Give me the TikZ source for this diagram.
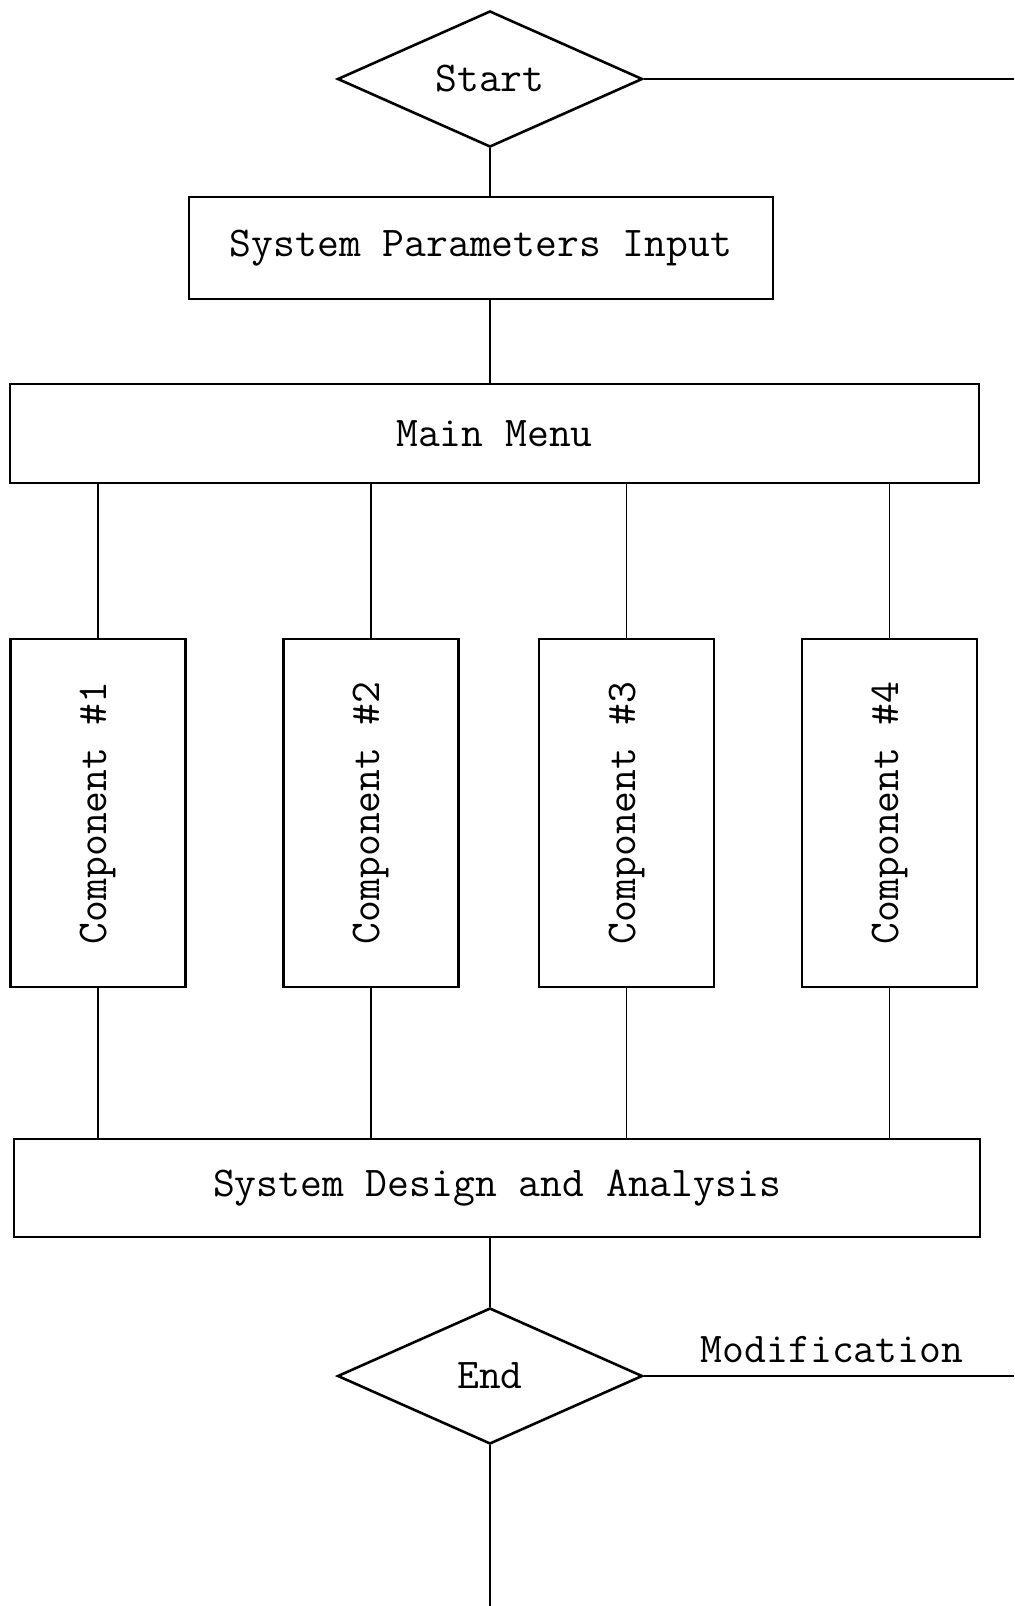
\documentclass[tikz,border=0pt]{standalone}
\usepackage{fontspec}
\usetikzlibrary{positioning, shapes.geometric}

\begin{document}
\begin{tikzpicture}[
      x=0.5pt, y=-0.5pt,
      every node/.style = {font=\ttfamily\fontsize{21.2}{25}\selectfont},
      box/.style       = {draw, line width=1.3pt, inner sep=0pt},
      decision/.style  = {draw, diamond, line width=1.3pt, inner sep=0pt,
                          minimum width=152.5pt, minimum height=68pt},
      comp/.style      = {box, minimum width=87.5pt, minimum height=174pt},
      link/.style      = {line width=0.7pt}
  ]
  \useasboundingbox (0,0) rectangle (1014,1606);

  % --- Top of the flow ---
  \node[decision] (start) at (490,79) {Start};
  \node[box, minimum width=292pt, minimum height=51pt] (spi) at (481,248)
        {System Parameters Input};
  \node[box, minimum width=484.5pt, minimum height=49.5pt] (menu) at (494.5,433.5)
        {Main Menu};

  % --- Components ---
  \node[comp] (c1) at (98,813)    {\rotatebox{90}{Component \#1}};
  \node[comp] (c2) at (371,813)   {\rotatebox{90}{Component \#2}};
  \node[comp] (c3) at (626.5,813) {\rotatebox{90}{Component \#3}};
  \node[comp] (c4) at (889.5,813) {\rotatebox{90}{Component \#4}};

  % --- Bottom of the flow ---
  \node[box, minimum width=483pt, minimum height=49pt] (sda) at (497,1188)
        {System Design and Analysis};
  \node[decision] (end) at (490,1376) {End};
  \node (mod) at (832,1350) {Modification};

  % free ends at the page edge
  \coordinate (edge) at (1014,0);
  \coordinate (exit) at (490,1606);

  % --- Connectors ---
  \draw[link] (start.east) -- (start.east -| edge);
  \draw[link] (start.south) -- (start.south |- spi.north);
  \draw[link] (spi.south -| start.south) -- (start.south |- menu.north);
  \foreach \c in {c1,c2,c3,c4} {
    \draw[link] (menu.south -| \c.north) -- (\c.north);
    \draw[link] (\c.south) -- (\c.south |- sda.north);
  }
  \draw[link] (sda.south -| end.north) -- (end.north);
  \draw[link] (end.east) -- (end.east -| edge);
  \draw[link] (end.south) -- (exit);

\end{tikzpicture}
\end{document}
